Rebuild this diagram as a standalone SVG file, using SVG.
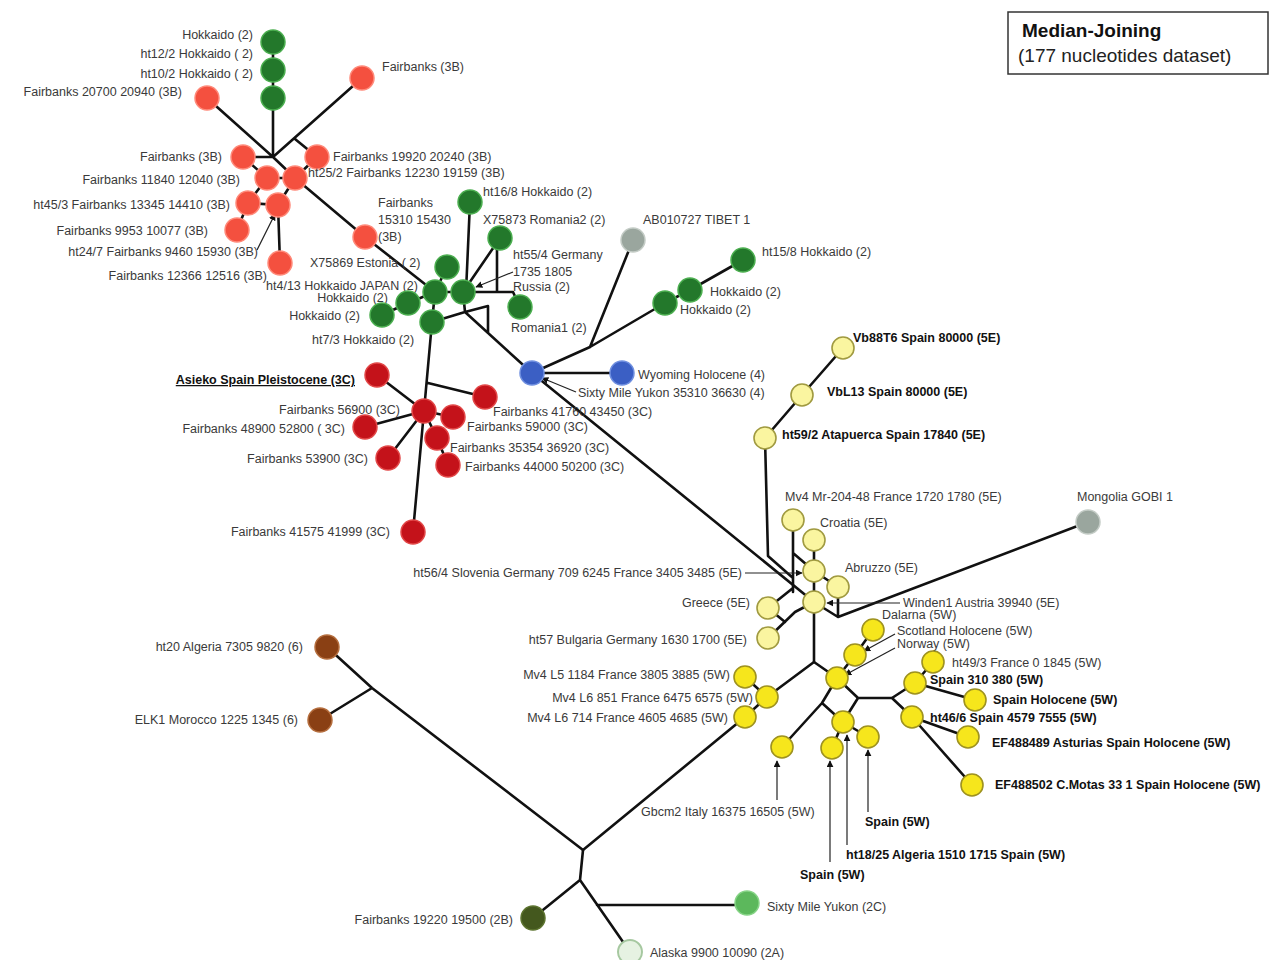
<svg xmlns="http://www.w3.org/2000/svg" width="1282" height="960" viewBox="0 0 1282 960">
<defs>
<marker id="ah" viewBox="0 0 10 10" refX="9" refY="5" markerWidth="7" markerHeight="7" orient="auto" markerUnits="userSpaceOnUse"><path d="M0,0 L10,5 L0,10 z" fill="#111"/></marker>
<style>
.e{fill:none;stroke:#111;stroke-width:2.6;stroke-linejoin:round;stroke-linecap:round}
.a{fill:none;stroke:#222;stroke-width:1.2;marker-end:url(#ah)}
text{font-family:"Liberation Sans",Arial,sans-serif;font-size:12.5px;fill:#3a3a3a}
.b{font-weight:bold;fill:#111}
.r{text-anchor:end}
.u{text-decoration:underline}
.g{fill:#23782b;stroke:#4caf50;stroke-width:1.5}
.rb{fill:#f4503f;stroke:#ff8a7a;stroke-width:1.5}
.rc{fill:#c4121a;stroke:#e24848;stroke-width:1.5}
.bl{fill:#3b5fc4;stroke:#7090e0;stroke-width:1.5}
.gy{fill:#9aa69e;stroke:#c4ccc6;stroke-width:1.5}
.ly{fill:#faf5a0;stroke:#a09a40;stroke-width:1.6}
.yw{fill:#f6e61c;stroke:#9e9220;stroke-width:1.6}
.br{fill:#8a4014;stroke:#b56e3e;stroke-width:1.5}
.ol{fill:#44581e;stroke:#5d7430;stroke-width:1.5}
.g2{fill:#5cb85c;stroke:#86d486;stroke-width:1.5}
.pa{fill:#e6f2e2;stroke:#a6c8a0;stroke-width:2}
</style>
</defs>
<rect width="1282" height="960" fill="#fff"/>

<g id="legend">
<rect x="1008" y="12" width="260" height="62" fill="#fff" stroke="#333" stroke-width="1.5"/>
<text x="1022" y="37" style="font-size:19px;font-weight:bold;fill:#111">Median-Joining</text>
<text x="1018" y="62" style="font-size:19px;fill:#222">(177 nucleotides dataset)</text>
</g>

<g id="connectors">
<path class="e" d="M273,42 V157 M207,98 L273,157 M243,157 H273 M273,157 L362,78 M295,139 L317,157 M273,157 L295,178 L365,237 L435,292 M243,157 L267,178 H295 L317,157 M267,178 L248,203 L278,205 L295,178 M248,203 L237,230 M278,205 L280,263"/>
<path class="e" d="M447,267 L435,292 L463,292 M435,292 L408,303 L382,315 M435,292 L432,322 M470,202 L466,292 M463,292 L500,238 M463,292 H513 M497,292 V242 M513,292 L520,307 M432,322 L465,312 L532,373 M463,292 L465,312 M465,312 L488,306 V333"/>
<path class="e" d="M432,322 L424,411 L413,532 M428,383 L485,397 M377,375 L424,411 M424,411 L365,427 M424,411 L388,458 M424,411 L453,417 M424,411 L437,438 L448,465"/>
<path class="e" d="M532,373 L590,347 L665,303 L690,290 L743,260 M590,347 L633,240 M532,373 H622 M532,373 L814,602"/>
<path class="e" d="M843,348 L802,395 L765,438 L768,556 L793,578 M793,520 V592 M793,553 L814,571 M814,540 V602 M814,571 L838,587 V617 L1088,522 M814,602 L838,617 M768,608 L793,588 M768,608 L785,622 M768,638 L795,612 L814,602 M814,602 V662"/>
<path class="e" d="M814,662 L767,697 M814,662 L837,678 M873,630 L855,655 L837,678 M837,678 L822,703 L782,747 M822,703 L843,722 L858,698 L837,678 M858,698 H892 L915,683 L933,662 M892,698 L912,717 M915,683 L975,700 M912,717 L968,737 M912,717 L972,785 M843,722 L868,737 M843,722 L832,748 M745,677 L767,697 L745,717 M745,717 L583,850"/>
<path class="e" d="M327,647 L372,688 L583,850 L580,880 L533,918 M320,720 L372,688 M580,880 L630,952 M597,905 H747"/>
<path class="a" d="M257,250 L275,214"/>
<path class="a" d="M513,272 L476,287"/>
<path class="a" d="M576,392 L542,378"/>
<path class="a" d="M745,573 H802"/>
<path class="a" d="M900,603 H827"/>
<path class="a" d="M895,634 L864,651"/>
<path class="a" d="M895,648 L845,675"/>
<path class="a" d="M777,800 V761"/>
<path class="a" d="M830,862 V761"/>
<path class="a" d="M847,845 V735"/>
<path class="a" d="M868,812 V750"/>
</g>

<g id="n-hok-a"><circle class="g" cx="273" cy="42" r="12"/><text class="r" x="253" y="39">Hokkaido (2)</text></g>
<g id="n-ht12-2"><circle class="g" cx="273" cy="70" r="12"/><text class="r" x="253" y="58">ht12/2 Hokkaido ( 2)</text></g>
<g id="n-ht10-2"><circle class="g" cx="273" cy="98" r="12"/><text class="r" x="253" y="78">ht10/2 Hokkaido ( 2)</text></g>
<g id="n-fb20700"><circle class="rb" cx="207" cy="98" r="12"/><text class="r" x="182" y="96">Fairbanks 20700 20940 (3B)</text></g>
<g id="n-fb3b-top"><circle class="rb" cx="362" cy="78" r="12"/><text x="382" y="71">Fairbanks (3B)</text></g>
<g id="n-fb3b"><circle class="rb" cx="243" cy="157" r="12"/><text class="r" x="222" y="161">Fairbanks (3B)</text></g>
<g id="n-fb19920"><circle class="rb" cx="317" cy="157" r="12"/><text x="333" y="161">Fairbanks 19920 20240 (3B)</text></g>
<g id="n-fb11840"><circle class="rb" cx="267" cy="178" r="12"/><text class="r" x="240" y="184">Fairbanks 11840 12040 (3B)</text></g>
<g id="n-ht25-2"><text x="308" y="177">ht25/2 Fairbanks 12230 19159 (3B)</text><circle class="rb" cx="295" cy="178" r="12"/></g>
<g id="n-ht45-3"><circle class="rb" cx="248" cy="203" r="12"/><text class="r" x="230" y="209">ht45/3 Fairbanks 13345 14410 (3B)</text></g>
<g id="n-ht24-7"><circle class="rb" cx="278" cy="205" r="12"/><text class="r" x="258" y="256">ht24/7 Fairbanks 9460 15930 (3B)</text></g>
<g id="n-fb9953"><circle class="rb" cx="237" cy="230" r="12"/><text class="r" x="208" y="235">Fairbanks 9953 10077 (3B)</text></g>
<g id="n-fb12366"><circle class="rb" cx="280" cy="263" r="12"/><text class="r" x="267" y="280">Fairbanks 12366 12516 (3B)</text></g>
<g id="n-fb15310"><text x="378" y="207">Fairbanks<tspan x="378" y="224">15310 15430</tspan><tspan x="378" y="241">(3B)</tspan></text><circle class="rb" cx="365" cy="237" r="12"/></g>

<g id="n-estonia"><text x="310" y="267">X75869 Estonia ( 2)</text><circle class="g" cx="447" cy="267" r="12"/></g>
<g id="n-ht4-13"><circle class="g" cx="435" cy="292" r="12"/><text class="r" x="418" y="290">ht4/13 Hokkaido JAPAN (2)</text></g>
<g id="n-hub-green"><circle class="g" cx="463" cy="292" r="12"/></g>
<g id="n-hok-b"><circle class="g" cx="408" cy="303" r="12"/><text class="r" x="388" y="302">Hokkaido (2)</text></g>
<g id="n-hok-c"><circle class="g" cx="382" cy="315" r="12"/><text class="r" x="360" y="320">Hokkaido (2)</text></g>
<g id="n-ht7-3"><circle class="g" cx="432" cy="322" r="12"/><text x="312" y="344">ht7/3 Hokkaido (2)</text></g>
<g id="n-ht16-8"><circle class="g" cx="470" cy="202" r="12"/><text x="483" y="196">ht16/8 Hokkaido (2)</text></g>
<g id="n-romania2"><circle class="g" cx="500" cy="238" r="12"/><text x="483" y="224">X75873 Romania2 (2)</text></g>
<g id="n-ht55-4"><text x="513" y="259">ht55/4 Germany<tspan x="513" y="276">1735 1805</tspan><tspan x="513" y="291">Russia (2)</tspan></text></g>
<g id="n-romania1"><circle class="g" cx="520" cy="307" r="12"/><text x="511" y="332">Romania1 (2)</text></g>
<g id="n-tibet"><circle class="gy" cx="633" cy="240" r="12"/><text x="643" y="224">AB010727 TIBET 1</text></g>
<g id="n-hok-d"><circle class="g" cx="665" cy="303" r="12"/><text x="680" y="314">Hokkaido (2)</text></g>
<g id="n-hok-e"><circle class="g" cx="690" cy="290" r="12"/><text x="710" y="296">Hokkaido (2)</text></g>
<g id="n-ht15-8"><circle class="g" cx="743" cy="260" r="12"/><text x="762" y="256">ht15/8 Hokkaido (2)</text></g>

<g id="n-sixtymile4"><circle class="bl" cx="532" cy="373" r="12"/><text x="578" y="397">Sixty Mile Yukon 35310 36630 (4)</text></g>
<g id="n-wyoming"><circle class="bl" cx="622" cy="373" r="12"/><text x="638" y="379">Wyoming Holocene (4)</text></g>

<g id="n-asieko"><circle class="rc" cx="377" cy="375" r="12"/><text class="r b u" x="355" y="384">Asieko Spain Pleistocene (3C)</text></g>
<g id="n-fb56900"><circle class="rc" cx="424" cy="411" r="12"/><text class="r" x="400" y="414">Fairbanks 56900 (3C)</text></g>
<g id="n-fb41760"><text x="493" y="416">Fairbanks 41760 43450 (3C)</text><circle class="rc" cx="485" cy="397" r="12"/></g>
<g id="n-fb48900"><circle class="rc" cx="365" cy="427" r="12"/><text class="r" x="345" y="433">Fairbanks 48900 52800 ( 3C)</text></g>
<g id="n-fb59000"><circle class="rc" cx="453" cy="417" r="12"/><text x="467" y="431">Fairbanks 59000 (3C)</text></g>
<g id="n-fb35354"><circle class="rc" cx="437" cy="438" r="12"/><text x="450" y="452">Fairbanks 35354 36920 (3C)</text></g>
<g id="n-fb44000"><circle class="rc" cx="448" cy="465" r="12"/><text x="465" y="471">Fairbanks 44000 50200 (3C)</text></g>
<g id="n-fb53900"><circle class="rc" cx="388" cy="458" r="12"/><text class="r" x="368" y="463">Fairbanks 53900 (3C)</text></g>
<g id="n-fb41575"><circle class="rc" cx="413" cy="532" r="12"/><text class="r" x="390" y="536">Fairbanks 41575 41999 (3C)</text></g>

<g id="n-vb88t6"><circle class="ly" cx="843" cy="348" r="11"/><text class="b" x="853" y="342">Vb88T6 Spain 80000 (5E)</text></g>
<g id="n-vbl13"><circle class="ly" cx="802" cy="395" r="11"/><text class="b" x="827" y="396">VbL13 Spain 80000 (5E)</text></g>
<g id="n-ht59-2"><circle class="ly" cx="765" cy="438" r="11"/><text class="b" x="782" y="439">ht59/2 Atapuerca Spain 17840 (5E)</text></g>
<g id="n-mv4mr"><circle class="ly" cx="793" cy="520" r="11"/><text x="785" y="501">Mv4 Mr-204-48 France 1720 1780 (5E)</text></g>
<g id="n-croatia"><circle class="ly" cx="814" cy="540" r="11"/><text x="820" y="527">Croatia (5E)</text></g>
<g id="n-ht56-4"><circle class="ly" cx="814" cy="571" r="11"/><text class="r" x="742" y="577">ht56/4 Slovenia Germany 709 6245 France 3405 3485 (5E)</text></g>
<g id="n-abruzzo"><circle class="ly" cx="838" cy="587" r="11"/><text x="845" y="572">Abruzzo (5E)</text></g>
<g id="n-winden1"><circle class="ly" cx="814" cy="602" r="11"/><text x="903" y="607">Winden1 Austria 39940 (5E)</text></g>
<g id="n-greece"><circle class="ly" cx="768" cy="608" r="11"/><text class="r" x="750" y="607">Greece (5E)</text></g>
<g id="n-ht57"><circle class="ly" cx="768" cy="638" r="11"/><text class="r" x="747" y="644">ht57 Bulgaria Germany 1630 1700 (5E)</text></g>
<g id="n-mongolia"><circle class="gy" cx="1088" cy="522" r="12"/><text x="1077" y="501">Mongolia GOBI 1</text></g>

<g id="n-dalarna"><circle class="yw" cx="873" cy="630" r="11"/><text x="882" y="619">Dalarna (5W)</text></g>
<g id="n-scotland"><circle class="yw" cx="855" cy="655" r="11"/><text x="897" y="635">Scotland Holocene (5W)</text></g>
<g id="n-norway"><circle class="yw" cx="837" cy="678" r="11"/><text x="897" y="648">Norway (5W)</text></g>
<g id="n-ht49-3"><circle class="yw" cx="933" cy="662" r="11"/><text x="952" y="667">ht49/3 France 0 1845 (5W)</text></g>
<g id="n-spain310"><circle class="yw" cx="915" cy="683" r="11"/><text class="b" x="930" y="684">Spain 310 380 (5W)</text></g>
<g id="n-spainhol"><circle class="yw" cx="975" cy="700" r="11"/><text class="b" x="993" y="704">Spain Holocene (5W)</text></g>
<g id="n-ht46-6"><circle class="yw" cx="912" cy="717" r="11"/><text class="b" x="930" y="722">ht46/6 Spain 4579 7555 (5W)</text></g>
<g id="n-ef488489"><circle class="yw" cx="968" cy="737" r="11"/><text class="b" x="992" y="747">EF488489 Asturias Spain Holocene (5W)</text></g>
<g id="n-ef488502"><circle class="yw" cx="972" cy="785" r="11"/><text class="b" x="995" y="789">EF488502 C.Motas 33 1 Spain Holocene (5W)</text></g>
<g id="n-ht18-25"><circle class="yw" cx="843" cy="722" r="11"/><text class="b" x="846" y="859">ht18/25 Algeria 1510 1715 Spain (5W)</text></g>
<g id="n-spain-a"><circle class="yw" cx="868" cy="737" r="11"/><text class="b" x="865" y="826">Spain (5W)</text></g>
<g id="n-spain-b"><circle class="yw" cx="832" cy="748" r="11"/><text class="b" x="800" y="879">Spain (5W)</text></g>
<g id="n-gbcm2"><circle class="yw" cx="782" cy="747" r="11"/><text x="641" y="816">Gbcm2 Italy 16375 16505 (5W)</text></g>
<g id="n-mv4l5"><circle class="yw" cx="745" cy="677" r="11"/><text class="r" x="730" y="679">Mv4 L5 1184 France 3805 3885 (5W)</text></g>
<g id="n-mv4l6-851"><circle class="yw" cx="767" cy="697" r="11"/><text class="r" x="753" y="702">Mv4 L6 851 France 6475 6575 (5W)</text></g>
<g id="n-mv4l6-714"><circle class="yw" cx="745" cy="717" r="11"/><text class="r" x="728" y="722">Mv4 L6 714 France 4605 4685 (5W)</text></g>

<g id="n-ht20"><circle class="br" cx="327" cy="647" r="12"/><text class="r" x="303" y="651">ht20 Algeria 7305 9820 (6)</text></g>
<g id="n-elk1"><circle class="br" cx="320" cy="720" r="12"/><text class="r" x="298" y="724">ELK1 Morocco 1225 1345 (6)</text></g>
<g id="n-fb19220"><circle class="ol" cx="533" cy="918" r="12"/><text class="r" x="513" y="924">Fairbanks 19220 19500 (2B)</text></g>
<g id="n-sixtymile2c"><circle class="g2" cx="747" cy="903" r="12"/><text x="767" y="911">Sixty Mile Yukon (2C)</text></g>
<g id="n-alaska"><circle class="pa" cx="630" cy="952" r="12"/><text x="650" y="957">Alaska 9900 10090 (2A)</text></g>
</svg>
